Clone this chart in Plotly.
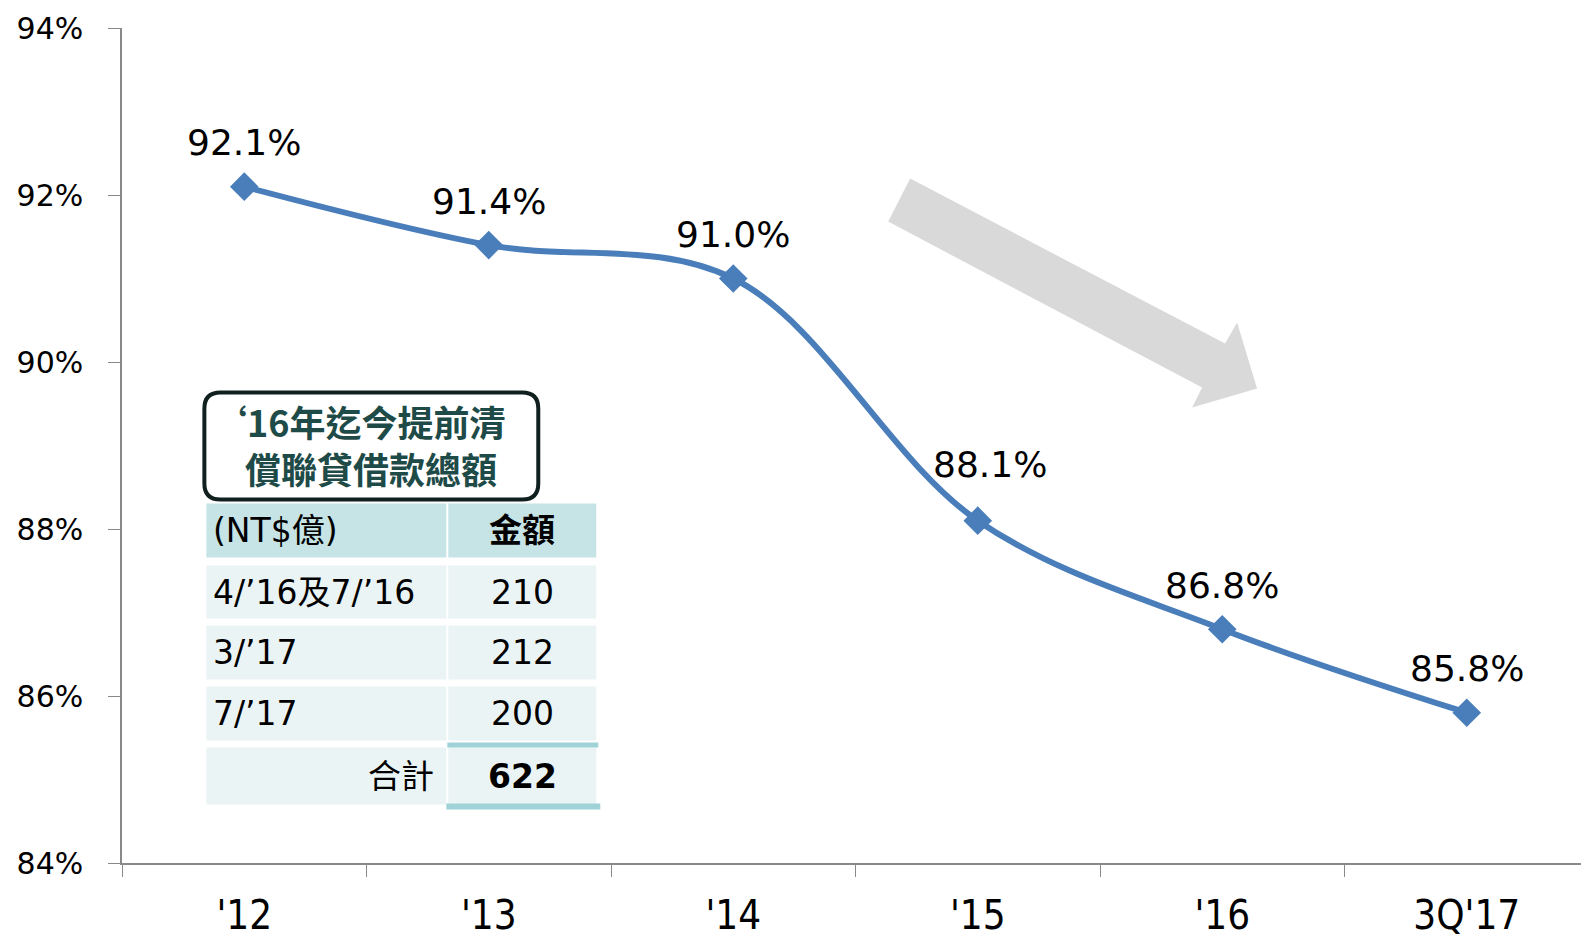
import plotly.graph_objects as go

# chart data
categories = ["'12", "'13", "'14", "'15", "'16", "3Q'17"]
ratios = [92.1, 91.4, 91.0, 88.1, 86.8, 85.8]

# inset table data
table_title = ["‘16年迄今提前清", "償聯貸借款總額"]
table_header = ["(NT$億)", "金額"]
table_rows = ["4/’16及7/’16", "3/’17", "7/’17"]
table_amounts = [210, 212, 200]
total_label = "合計"

LINE_BLUE = "#4A7EBB"
AXIS_GREY = "#898989"
HEADER_FILL = "#C6E4E6"
ROW_FILL = "#EBF4F5"
TEAL_LINE = "#9FD3D7"
TITLE_TEXT = "#1E4B48"

NUM_FONT = "DejaVu Sans, Verdana, sans-serif"
TABLE_FONT = "DejaVu Sans, Noto Sans CJK TC, sans-serif"
CJK_FONT = "Noto Sans CJK TC, DejaVu Sans, sans-serif"
NARROW_FONT = "Liberation Sans Narrow, DejaVu Sans Condensed, DejaVu Sans, sans-serif"

# the page body adds an 8px margin, so the figure is drawn 8px in
OFF = 8
W, H = 1581, 929
L, R, T, B = 113.6, 0, 20.4, 73.6


# page pixel -> paper helpers for the drawn decorations
def px(x):
    return (x - OFF - L) / (W - L - R)


def py(y):
    return (H - B - (y - OFF)) / (H - T - B)


fig = go.Figure()
fig.add_trace(go.Scatter(
    x=categories,
    y=ratios,
    mode="lines+markers",
    line=dict(color=LINE_BLUE, width=6, shape="spline", smoothing=1.0),
    marker=dict(symbol="diamond", size=22, color=LINE_BLUE),
    hoverinfo="x+y",
    showlegend=False,
))

# data labels above each point
label_shift = {"'15": (12, 56)}
for cat, val in zip(categories, ratios):
    dx, dy = label_shift.get(cat, (0, 44))
    fig.add_annotation(
        x=cat, y=val, text=f"{val:.1f}%", showarrow=False,
        xshift=dx, yshift=dy, yanchor="middle",
        font=dict(family=NUM_FONT, size=36, color="black"),
    )

shapes = []

# grey trend arrow
arrow_pts = [(910, 179), (1225, 344), (1237, 323), (1257, 389),
             (1192, 408), (1202, 388), (888, 222)]
path = "M " + " L ".join(f"{px(x):.5f},{py(y):.5f}" for x, y in arrow_pts) + " Z"
shapes.append(dict(type="path", xref="paper", yref="paper", path=path,
                   fillcolor="#D9D9D9", line=dict(width=0), layer="below"))

# rounded title box
bx0, bx1, by0, by1, rad = 204, 538, 393, 500, 16
rounded = (
    f"M {px(bx0 + rad)},{py(by0)} L {px(bx1 - rad)},{py(by0)} "
    f"Q {px(bx1)},{py(by0)} {px(bx1)},{py(by0 + rad)} "
    f"L {px(bx1)},{py(by1 - rad)} Q {px(bx1)},{py(by1)} {px(bx1 - rad)},{py(by1)} "
    f"L {px(bx0 + rad)},{py(by1)} Q {px(bx0)},{py(by1)} {px(bx0)},{py(by1 - rad)} "
    f"L {px(bx0)},{py(by0 + rad)} Q {px(bx0)},{py(by0)} {px(bx0 + rad)},{py(by0)} Z"
)
shapes.append(dict(type="path", xref="paper", yref="paper", path=rounded,
                   fillcolor="white", line=dict(color="#10201E", width=4)))

# the full-width opening quote leaves blank room on the left; nudge line one back
title_shift = [-13, 0]
for i, line_txt in enumerate(table_title):
    fig.add_annotation(
        xref="paper", yref="paper", x=px((bx0 + bx1) / 2), y=py(421 + i * 47),
        text=f"<b>{line_txt}</b>", showarrow=False, xanchor="center", yanchor="middle",
        xshift=title_shift[i], height=44,
        font=dict(family=CJK_FONT, size=36, color=TITLE_TEXT),
    )

# table cells
c1x0, c1x1, c2x0, c2x1 = 206, 446, 448, 596
row_bands = [(504, 558), (566, 619), (626, 680), (687, 741), (748, 805)]


def cell(x0, x1, y0, y1, fill):
    shapes.append(dict(type="rect", xref="paper", yref="paper",
                       x0=px(x0), x1=px(x1), y0=py(y1), y1=py(y0),
                       fillcolor=fill, line=dict(width=0)))


for k, (y0, y1) in enumerate(row_bands):
    fill = HEADER_FILL if k == 0 else ROW_FILL
    cell(c1x0, c1x1, y0, y1, fill)
    cell(c2x0, c2x1, y0, y1, fill)

# teal rules around the total
cell(447, 598, 743, 748, TEAL_LINE)
cell(446, 600, 804, 810, TEAL_LINE)


def cell_text(text, x, y, anchor, bold=False):
    fig.add_annotation(
        xref="paper", yref="paper", x=px(x), y=py(y),
        text=f"<b>{text}</b>" if bold else text, showarrow=False,
        xanchor=anchor, yanchor="middle",
        font=dict(family=TABLE_FONT, size=33, color="black"),
    )


centers = [(y0 + y1) / 2 for y0, y1 in row_bands]
cell_text(table_header[0], 211, centers[0], "left")
cell_text(table_header[1], 522, centers[0], "center", bold=True)
for k, (name, amt) in enumerate(zip(table_rows, table_amounts)):
    cell_text(name, 211, centers[k + 1], "left")
    cell_text(str(amt), 522, centers[k + 1], "center")
cell_text(total_label, 436, centers[4], "right")
cell_text(str(sum(table_amounts)), 522, centers[4], "center", bold=True)

fig.update_layout(
    width=W, height=H,
    margin=dict(l=L, r=R, t=T, b=B),
    plot_bgcolor="white",
    paper_bgcolor="white",
    shapes=shapes,
    showlegend=False,
)
fig.update_xaxes(
    type="category", range=[-0.5, 5.5],
    showline=True, linecolor=AXIS_GREY, linewidth=1.5,
    ticks="outside", tickson="boundaries", ticklen=12, tickcolor=AXIS_GREY, tickwidth=1,
    showgrid=False, zeroline=False,
    tickfont=dict(family=NARROW_FONT, size=40, color="black"),
    ticklabelstandoff=16,
)
fig.update_yaxes(
    range=[84, 94], dtick=2, ticksuffix="%",
    showline=True, linecolor=AXIS_GREY, linewidth=1.5,
    ticks="outside", ticklen=12, tickcolor=AXIS_GREY, tickwidth=1,
    showgrid=False, zeroline=False,
    tickfont=dict(family=NUM_FONT, size=30, color="black"),
    ticklabelstandoff=19,
)

fig.write_html("out.html")
